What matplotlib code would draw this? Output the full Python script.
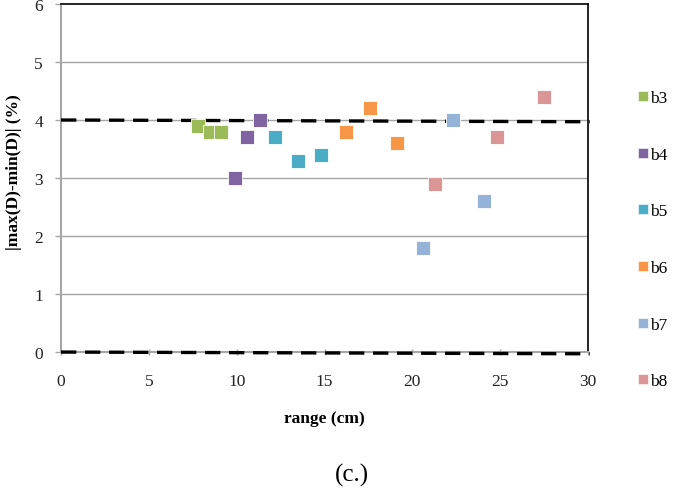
import matplotlib
matplotlib.use("Agg")
import matplotlib.pyplot as plt
from matplotlib.lines import Line2D

series_names = ["b3", "b4", "b5", "b6", "b7", "b8"]
b3_x = [7.8, 8.5, 9.1];     b3_y = [3.9, 3.8, 3.8]
b4_x = [9.9, 10.6, 11.3];   b4_y = [3.0, 3.7, 4.0]
b5_x = [12.2, 13.5, 14.8];  b5_y = [3.7, 3.3, 3.4]
b6_x = [16.2, 17.6, 19.1];  b6_y = [3.8, 4.2, 3.6]
b7_x = [20.6, 22.3, 24.1];  b7_y = [1.8, 4.0, 2.6]
b8_x = [21.3, 24.8, 27.5];  b8_y = [2.9, 3.7, 4.4]
colors = ["#9BBB59", "#8064A2", "#4BACC6", "#F79646", "#95B3D7", "#DA9694"]

limit_x = [0, 30.1]
upper_limit = [4.0, 3.97]
lower_limit = [0.0, -0.03]

xticks = [0, 5, 10, 15, 20, 25, 30]
yticks = [0, 1, 2, 3, 4, 5, 6]

serif = ["Liberation Serif", "DejaVu Serif"]

fig = plt.figure(figsize=(6.75, 4.89), dpi=100)
ax = fig.add_axes([0.0904, 0.278, 0.7807, 0.7118])
ax.set_xlim(0, 30)
ax.set_ylim(0, 6)

for y in [1, 2, 3, 4, 5]:
    ax.axhline(y, color="#A6A6A6", lw=1.0, zorder=1)

for lim in (upper_limit, lower_limit):
    ax.plot(limit_x, lim, color="black", lw=2.4, dashes=(4.6, 2.6),
            zorder=3, clip_on=False, solid_capstyle="butt", dash_capstyle="butt")

xs = [b3_x, b4_x, b5_x, b6_x, b7_x, b8_x]
ys = [b3_y, b4_y, b5_y, b6_y, b7_y, b8_y]
for name, x, y, c in zip(series_names, xs, ys, colors):
    ax.plot(x, y, linestyle="none", marker="s", markersize=9.5, color=c,
            markeredgecolor="white", markeredgewidth=0.6, label=name, zorder=4)

ax.spines["top"].set_color("black")
ax.spines["right"].set_color("black")
ax.spines["top"].set_linewidth(1.2)
ax.spines["right"].set_linewidth(1.2)
ax.spines["left"].set_color("#A6A6A6")
ax.spines["bottom"].set_color("#A6A6A6")
ax.spines["left"].set_linewidth(1.5)
ax.spines["bottom"].set_linewidth(1.5)

ax.set_xticks(xticks)
ax.set_yticks(yticks)
ax.tick_params(axis="both", colors="#A6A6A6", length=4, width=1, labelcolor="#222222",
               labelsize=12.5)
ax.tick_params(axis="x", direction="inout", pad=13)
ax.tick_params(axis="y", direction="out", pad=9)
for lbl in ax.get_xticklabels() + ax.get_yticklabels():
    lbl.set_fontfamily(serif)

ax.set_xlabel("range (cm)", family=serif, fontweight="bold", fontsize=12.5, labelpad=15)
ax.set_ylabel("|max(D)-min(D)| (%)", family=serif, fontweight="bold", fontsize=12.5)
ax.yaxis.set_label_coords(-0.074, 0.52)

handles = [Line2D([], [], linestyle="none", marker="s", markersize=7.5, color=c,
                  markeredgecolor="white", markeredgewidth=0.4) for c in colors]
leg = fig.legend(handles, series_names, loc="upper left", bbox_to_anchor=(0.936, 0.828),
                 frameon=False, prop={"family": serif, "size": 12.5},
                 handlelength=0.5, handletextpad=0.15, labelspacing=2.33,
                 borderaxespad=0, borderpad=0.4)

fig.text(0.521, 0.004, "(c.)", family=serif, fontsize=18, ha="center", va="bottom")

fig.savefig("out.png", dpi=100)
